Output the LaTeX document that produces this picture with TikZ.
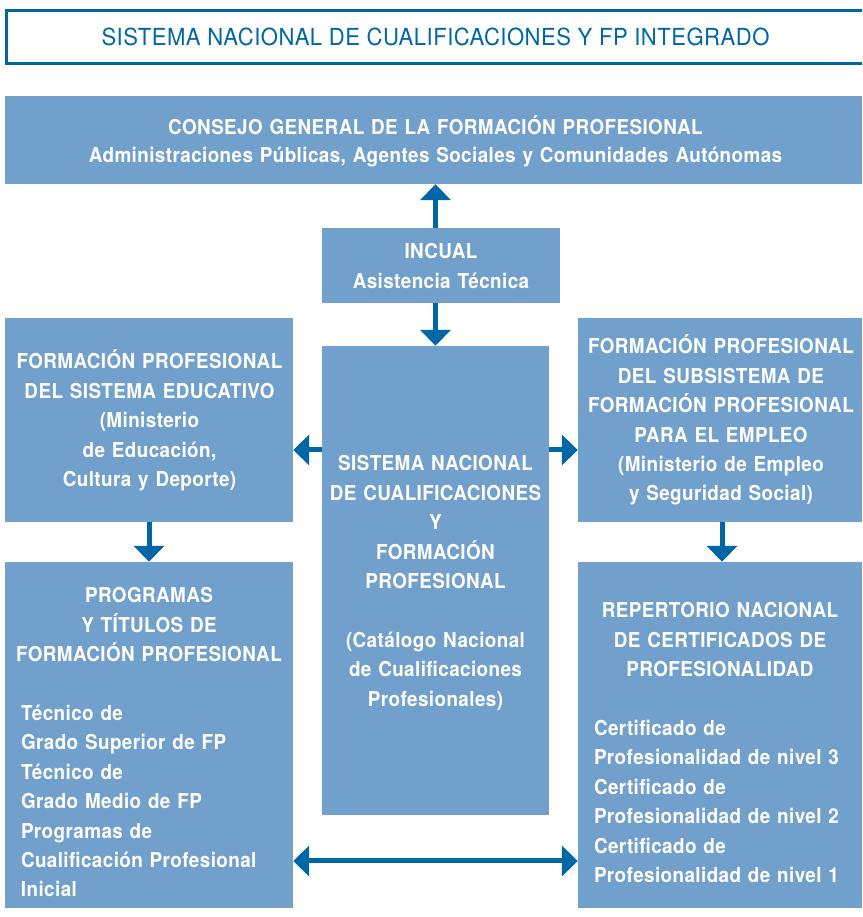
\documentclass[tikz,border=0pt]{standalone}
\usepackage{fontspec}
\setmainfont{TeX Gyre Heros}[FakeStretch=0.92,LetterSpace=2]
\newfontfamily\titlefont{TeX Gyre Heros}[FakeStretch=0.94,LetterSpace=2]
\usetikzlibrary{arrows.meta}
\definecolor{boxblue}{HTML}{72A0CC}
\definecolor{darkblue}{HTML}{0066A6}
\tikzset{
  box/.style={fill=boxblue, draw=none, inner sep=0pt},
  txt/.style={text=white, font=\bfseries\fontsize{20.5}{29.4}\selectfont, inner sep=0pt, align=center, anchor=base},
  ltxt/.style={txt, align=left},
  titlebox/.style={draw=darkblue, line width=3pt, text=darkblue, font=\titlefont\fontsize{23.5}{28}\selectfont, inner sep=0pt, minimum width=858pt, minimum height=53pt},
  conn/.style={draw=darkblue, line width=5pt, -{Triangle[length=16pt,width=30pt]}},
  biconn/.style={draw=darkblue, line width=5pt, {Triangle[length=16pt,width=30pt]}-{Triangle[length=16pt,width=30pt]}},
}
\newcommand{\ctr}[1]{\makebox[\linewidth][c]{#1}}
\begin{document}
\begin{tikzpicture}[x=1pt,y=1pt]
\useasboundingbox (0,0) rectangle (862,917);
\clip (0,0) rectangle (862,917);
\node[titlebox] (title) at (435.5,880) {SISTEMA NACIONAL DE CUALIFICACIONES Y FP INTEGRADO};

\node[box, minimum width=857pt, minimum height=88pt] (consejo) at (433.5,777) {};
\node[box, minimum width=238pt, minimum height=75pt] (incual) at (441,651.5) {};
\node[box, minimum width=227pt, minimum height=469pt] (central) at (435.5,336.5) {};
\node[box, minimum width=288pt, minimum height=204pt] (lefttop) at (149,497) {};
\node[box, minimum width=284pt, minimum height=204pt] (righttop) at (720,497) {};
\node[box, minimum width=288pt, minimum height=346pt] (leftbot) at (149,182) {};
\node[box, minimum width=284pt, minimum height=346pt] (rightbot) at (720,182) {};

\node[txt, text width=850pt, font=\bfseries\fontsize{20.5}{28}\selectfont] (consejo-t) at (435.5,782) {CONSEJO GENERAL DE LA FORMACIÓN PROFESIONAL\\Administraciones Públicas, Agentes Sociales y Comunidades Autónomas};
\node[txt, text width=236pt] (incual-t) at (441,658) {INCUAL\\Asistencia Técnica};
\node[txt, text width=227pt] (central-t) at (435.5,446) {SISTEMA NACIONAL\\DE CUALIFICACIONES\\Y\\FORMACIÓN\\PROFESIONAL\\[29.4pt](Catálogo Nacional\\de Cualificaciones\\Profesionales)};
\node[txt, text width=288pt] (lefttop-t) at (149.5,548) {FORMACIÓN PROFESIONAL\\DEL SISTEMA EDUCATIVO\\(Ministerio\\de Educación,\\Cultura y Deporte)};
\node[txt, text width=284pt] (righttop-t) at (721,563) {FORMACIÓN PROFESIONAL\\DEL SUBSISTEMA DE\\FORMACIÓN PROFESIONAL\\PARA EL EMPLEO\\(Ministerio de Empleo\\y Seguridad Social)};
\node[ltxt, text width=256pt] (leftbot-t) at (149,314) {\ctr{PROGRAMAS}\\\ctr{Y TÍTULOS DE}\\\ctr{FORMACIÓN PROFESIONAL}\\[29.4pt]Técnico de\\Grado Superior de FP\\Técnico de\\Grado Medio de FP\\Programas de\\Cualificación Profesional\\Inicial};
\node[ltxt, text width=252pt] (rightbot-t) at (720,299) {\ctr{REPERTORIO NACIONAL}\\\ctr{DE CERTIFICADOS DE}\\\ctr{PROFESIONALIDAD}\\[29.4pt]Certificado de\\Profesionalidad de nivel 3\\Certificado de\\Profesionalidad de nivel 2\\Certificado de\\Profesionalidad de nivel 1};

\coordinate (ly) at (0,467);
\coordinate (by) at (0,56);
\draw[conn] (central.north |- incual.north) -- (central.north |- consejo.south);
\draw[conn] (central.north |- incual.south) -- (central.north);
\draw[conn] (central.west |- ly) -- (lefttop.east |- ly);
\draw[conn] (central.east |- ly) -- (righttop.west |- ly);
\draw[conn] (lefttop.south) -- (leftbot.north);
\draw[conn] (righttop.south -| 722,0) -- (rightbot.north -| 722,0);
\draw[biconn] (leftbot.east |- by) -- (rightbot.west |- by);
\end{tikzpicture}
\end{document}
